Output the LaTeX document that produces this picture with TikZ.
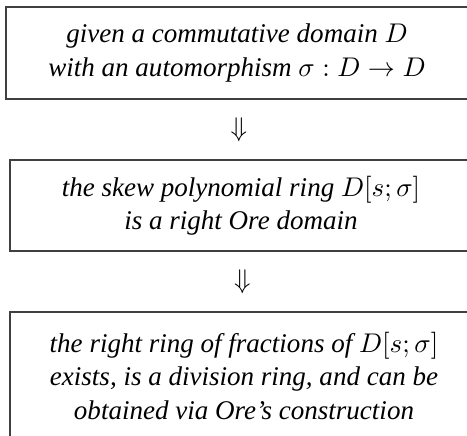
\documentclass[tikz,border=0pt]{standalone}
\usepackage{fontspec}
\setmainfont{Liberation Serif}
\usetikzlibrary{calc}
\begin{document}
\begin{tikzpicture}[x=0.37pt,y=-0.37pt,
  stmt/.style={draw=black!75, line width=0.45pt, align=center, inner sep=0pt,
    font=\fontsize{10}{12.4}\selectfont\itshape},
  implies/.style={inner sep=0pt, font=\fontsize{10}{12}\selectfont}]
\useasboundingbox (0,0) rectangle (467,435);
\clip (0,0) rectangle (467,435);

% the three statements of the chain
\node[stmt, minimum width={462*0.37pt}, minimum height={92*0.37pt}] (given) at (237,53)
  {given a commutative domain $D$\\ with an automorphism $\sigma : D \to D$};
\node[stmt, minimum width={462*0.37pt}, minimum height={91*0.37pt}] (ore) at (241,205.5)
  {the skew polynomial ring $D[s;\sigma]$\\ is a right Ore domain};
\node[stmt, minimum width={468*0.37pt}, minimum height={128*0.37pt}] (frac) at (244,376)
  {the right ring of fractions of $D[s;\sigma]$\\ exists, is a division ring, and can be\\ obtained via Ore's construction};

% implication signs between the statements
\node[implies] (arr1) at ($(given.south)!0.5!(ore.north)$) {$\Downarrow$};
\node[implies] (arr2) at ($(ore.south)!0.5!(frac.north)$) {$\Downarrow$};
\end{tikzpicture}
\end{document}
